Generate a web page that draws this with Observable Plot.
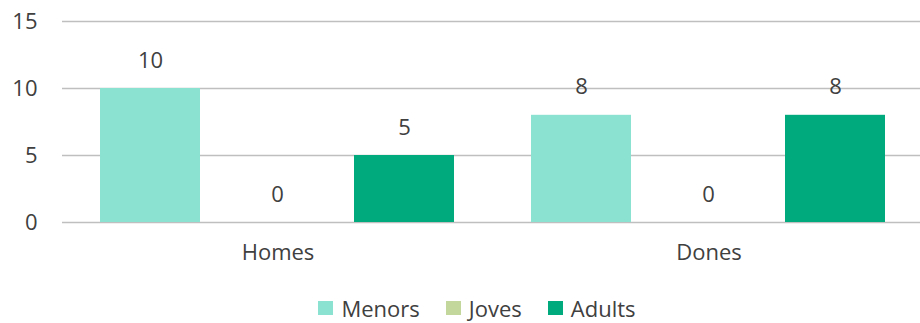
<!DOCTYPE html>
<html>
<head>
<meta charset="utf-8">
<script src="https://cdn.jsdelivr.net/npm/d3@7"></script>
<script src="https://cdn.jsdelivr.net/npm/@observablehq/plot@0.6"></script>
<style>
  html, body { margin: 0; padding: 0; background: #fff; }
  body { width: 920px; height: 323px; overflow: hidden; font-family: "Open Sans", sans-serif; color: #404040; }
  #chart { width: 920px; height: 290px; overflow: hidden; line-height: 0; }
  #chart svg { display: block; max-width: none !important; }
  #legend { display: flex; justify-content: center; align-items: center; gap: 26px; height: 33px; padding-top: 2px; box-sizing: border-box; font-size: 22px; line-height: 30px; margin-left: 34px; width: 886px; }
  #legend .item { display: flex; align-items: center; gap: 8px; }
  #legend .sw { width: 15px; height: 14px; display: inline-block; }
</style>
</head>
<body>
<div id="chart"></div>
<div id="legend"></div>
<script>
const categories = ["Homes", "Dones"];
const series = ["Menors", "Joves", "Adults"];
const menors = [10, 8];
const joves = [0, 0];
const adults = [5, 8];
const yTicks = [0, 5, 10, 15];
const colors = ["#8ce2d0", "#c3d69b", "#00aa7d"];

const seriesValues = [menors, joves, adults];
const data = [];
categories.forEach((c, i) => {
  series.forEach((s, j) => data.push({group: c, series: s, value: seriesValues[j][i]}));
});

const chart = Plot.plot({
  width: 924,
  height: 290,
  marginLeft: 61,
  marginRight: 0,
  marginTop: 21,
  marginBottom: 68,
  style: {fontFamily: "Open Sans, sans-serif", fontSize: "22px", color: "#404040", background: "#fff", maxWidth: "none"},
  fx: {domain: categories, padding: 0, label: null, axis: "bottom", tickSize: 0, tickPadding: 22},
  x: {domain: series, paddingInner: 0.21, paddingOuter: 0.29, axis: null},
  y: {domain: [0, 15], ticks: yTicks, label: null, tickSize: 0, tickPadding: 25},
  color: {domain: series, range: colors},
  marks: [
    Plot.ruleY(yTicks, {stroke: "#bfbfbf", strokeWidth: 1.5}),
    Plot.barY(data, {fx: "group", x: "series", y: "value", fill: "series"}),
    Plot.text(data, {fx: "group", x: "series", y: "value", text: d => String(d.value), dy: -28, fill: "#404040", fontSize: 22})
  ]
});
document.getElementById("chart").appendChild(chart);

const legend = document.getElementById("legend");
series.forEach((s, i) => {
  const item = document.createElement("span");
  item.className = "item";
  const sw = document.createElement("span");
  sw.className = "sw";
  sw.style.background = colors[i];
  item.appendChild(sw);
  item.appendChild(document.createTextNode(s));
  legend.appendChild(item);
});
</script>
</body>
</html>
